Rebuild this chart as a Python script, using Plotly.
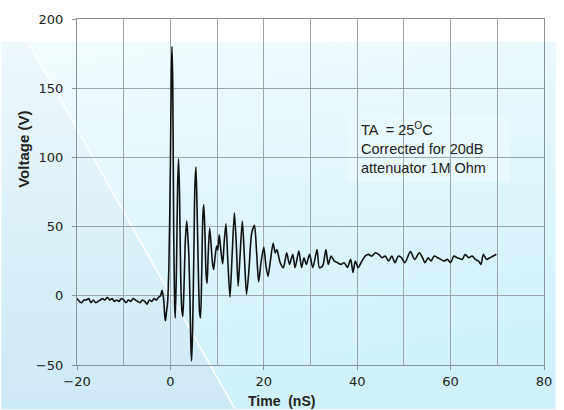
import base64
import plotly.graph_objects as go

# ---- data ----
time_ns = [
    -20, -19.5, -19, -18.5, -18, -17.5, -17, -16.5, -16, -15.5, -15, -14.5, -14, -13.5,
    -13, -12.5, -12, -11.5, -11, -10.5, -10, -9.5, -9, -8.5, -8, -7.5, -7, -6.5, -6,
    -5.5, -5, -4.5, -4, -3.5, -3, -2.5,
    -2.1, -1.8, -1.6, -1.4, -1.2, -1.05, -0.85, -0.6, -0.3, 0.0, 0.2, 0.35, 0.5, 0.7,
    0.9, 1.05, 1.3, 1.55, 1.75, 1.95, 2.2, 2.45, 2.66, 2.9, 3.2, 3.5, 3.75, 3.95, 4.2,
    4.4, 4.55, 4.75, 5.0, 5.25, 5.47, 5.7, 6.0, 6.25, 6.45, 6.7, 6.95, 7.15, 7.4, 7.65,
    7.85, 8.1, 8.4, 8.7, 9.0, 9.26, 9.6, 9.9, 10.15, 10.45, 10.7, 10.9, 11.2, 11.5, 11.9,
    12.3, 12.76, 13.2, 13.7, 14.1, 14.5, 14.9, 15.4, 15.85, 16.3, 16.8, 17.4, 18.0, 18.45,
    18.9, 19.4, 20.0, 20.45, 20.9, 21.4, 22.0, 22.45, 22.8, 23.5, 24.2, 24.9, 25.5, 26.2,
    26.7, 27.5, 28.1, 28.6, 29.1, 29.8, 30.5, 31.4, 31.9, 32.6, 33.3, 33.8, 34.4, 35.1,
    35.8, 36.5, 37.2, 37.9, 38.6, 39.1, 39.6, 40.2, 41.0, 41.7, 42.4, 43.1, 43.9, 44.6,
    45.3, 46.0, 46.7, 47.4, 48.1, 48.8, 49.5, 50.2, 51.4, 52.3, 53.3, 54.0, 54.5, 55.2,
    55.8, 56.5, 57.2, 57.9, 58.6, 59.3, 60.0, 60.7, 61.4, 62.5, 63.1, 63.9, 64.6, 65.3,
    66.0, 66.5, 67.0, 67.7, 68.4, 69.1, 69.8,
]
voltage_v = [
    -2, -4, -5, -3, -3, -2, -5, -3, -5, -4, -3, -2, -3, -1,
    -3, -2, -4, -3, -4, -2, -3, -5, -3, -4, -2, -3, -4, -5, -3,
    -4, -6, -3, -4, -2, -3, -1,
    0, 4, 1, -4, -15, -18, -12, -5, 25, 95, 160, 180, 155, 50,
    -5, -16, 20, 80, 99, 75, 15, -10, -15, 5, 40, 54, 42, 30, -5,
    -38, -47, -25, 25, 80, 93, 65, 15, -12, -16, 15, 58, 66, 45, 15,
    9, 30, 49, 38, 24, 19, 29, 36, 33, 44, 37, 30, 23, 38, 52,
    25, -1, 28, 60, 38, 7, 28, 54, 28, 1, 18, 45, 51, 32,
    10, 24, 35, 22, 14, 25, 38, 31, 33.5, 24, 20.3, 31, 22.7, 29.9,
    20.3, 32.3, 20.3, 27.5, 22.7, 29.9, 20.3, 33.5, 20.3, 21.5, 33.5, 22.7, 28.7, 25.1,
    23.9, 22.7, 23.9, 20.5, 26.3, 16.8, 25.1, 20.3, 25.1, 28.7, 29.9, 28.7, 31.1, 29.9,
    27.5, 28.7, 25.1, 28.7, 23.9, 28.7, 27.5, 23.9, 32, 26.3, 31.1, 27.5, 23.9, 27.5,
    25.1, 28.7, 27.5, 26.3, 25.1, 26.3, 23.9, 28.7, 27.5, 26.3, 29.9, 27.5, 28.7, 26.3,
    25.1, 22.7, 29.9, 26.3, 27.5, 28.7, 30,
]
x_ticks = [-20, 0, 20, 40, 60, 80]
y_ticks = [-50, 0, 50, 100, 150, 200]
note_lines = ["TA  = 25<sup>O</sup>C", "Corrected for 20dB", "attenuator 1M Ohm"]

# ---- background artwork (gradient + diagonal highlight) ----
W, H = 564, 410
svg = f'''<svg xmlns="http://www.w3.org/2000/svg" width="{W}" height="{H}" viewBox="0 0 {W} {H}">
<defs>
<linearGradient id="g" x1="0" y1="0" x2="0.25" y2="1">
<stop offset="0" stop-color="#f3fcfe"/>
<stop offset="1" stop-color="#d0f1fa"/>
</linearGradient>
<linearGradient id="h" x1="0" y1="0" x2="0" y2="1">
<stop offset="0" stop-color="#eef8fc"/>
<stop offset="1" stop-color="#cde9f5"/>
</linearGradient>
</defs>
<rect x="0" y="0" width="{W}" height="{H}" fill="#ffffff"/>
<rect x="0" y="39" width="{W}" height="{H-39}" fill="url(#g)"/>
<polygon points="0,39 27,39 238,410 0,410" fill="url(#h)"/>
<line x1="27" y1="39" x2="238" y2="410" stroke="#ffffff" stroke-width="1.6"/>
</svg>'''
bg_src = "data:image/svg+xml;base64," + base64.b64encode(svg.encode()).decode()

ML, MR, MT, MB = 77, 12, 16, 45
PW, PH = W - ML - MR, H - MT - MB


def px_x(p):
    return (p - ML) / PW


def px_y(p):
    return 1 - (p - MT) / PH


grid_col = "#9ea6a9"
axis_col = "#8a9396"
tick_font = dict(family="DejaVu Sans", size=13, color="#222222")
title_font = "Liberation Sans"

fig = go.Figure()
fig.add_trace(go.Scatter(
    x=time_ns, y=voltage_v, mode="lines",
    line=dict(color="#111111", width=1.6, shape="spline", smoothing=0.7),
    hoverinfo="skip", showlegend=False,
))

fig.update_layout(
    width=W, height=H,
    margin=dict(l=ML, r=MR, t=MT, b=MB, pad=0),
    paper_bgcolor="#ffffff",
    plot_bgcolor="rgba(0,0,0,0)",
    images=[dict(
        source=bg_src, xref="paper", yref="paper",
        x=-ML / PW, y=1 + MT / PH, sizex=W / PW, sizey=H / PH,
        xanchor="left", yanchor="top", sizing="stretch", layer="below",
    )],
    shapes=[dict(
        type="rect", xref="paper", yref="paper",
        x0=px_x(353), x1=px_x(517), y0=px_y(180), y1=px_y(113),
        fillcolor="#eaf9fd", line=dict(width=0), layer="between",
    )],
    xaxis=dict(
        range=[-20, 80], tickvals=x_ticks, ticks="outside", ticklen=4,
        tickcolor=axis_col, showgrid=True, gridcolor=grid_col, gridwidth=1,
        minor=dict(dtick=10, showgrid=True, gridcolor=grid_col, gridwidth=1),
        showline=True, linecolor=axis_col, linewidth=1.3, mirror=True,
        zeroline=False, tickfont=tick_font, fixedrange=True,
    ),
    yaxis=dict(
        range=[-50, 200], tickvals=y_ticks, ticks="outside", ticklen=4,
        tickcolor=axis_col, showgrid=True, gridcolor=grid_col, gridwidth=1,
        showline=True, linecolor=axis_col, linewidth=1.3, mirror=True,
        zeroline=False, tickfont=tick_font, fixedrange=True,
        ticklabelstandoff=6,
    ),
    annotations=[
        dict(text="<b>Time  (nS)</b>", xref="paper", yref="paper",
             x=px_x(284.5), y=px_y(401.5),
             xanchor="center", yanchor="middle", showarrow=False,
             font=dict(family=title_font, size=14, color="#222222")),
        dict(text="<b>Voltage (V)</b>", xref="paper", yref="paper",
             x=px_x(23), y=px_y(147), textangle=-90,
             xanchor="center", yanchor="middle", showarrow=False,
             font=dict(family=title_font, size=15, color="#222222")),
        dict(text="<br>".join(note_lines),
             xref="paper", yref="paper", x=px_x(364), y=px_y(146.5),
             xanchor="left", yanchor="middle",
             showarrow=False, align="left",
             font=dict(family=title_font, size=14.5, color="#222222")),
    ],
)

fig.write_html(
    "out.html",
    config={"displayModeBar": False},
    post_script="document.body.style.margin='0';document.body.style.padding='0';",
)
